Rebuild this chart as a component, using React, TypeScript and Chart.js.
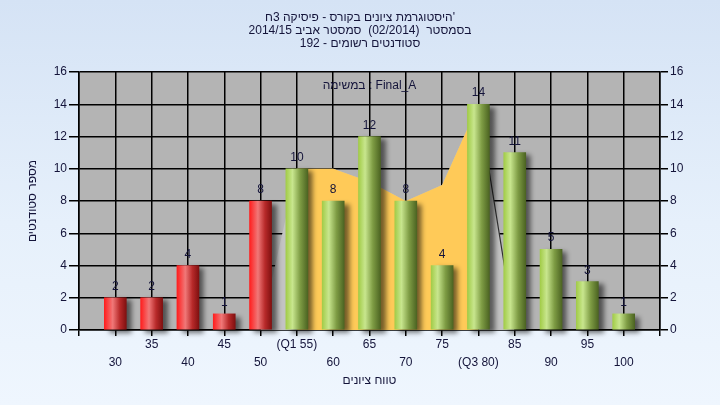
import React, { useEffect, useRef } from 'react';
import { Chart, registerables } from 'chart.js';

Chart.register(...registerables);

// Text
const titleLines = [
  "היסטוגרמת ציונים בקורס - פיסיקה 3ח'",
  'בסמסטר  (02/2014)  סמסטר אביב 2014/15',
  'סטודנטים רשומים - 192',
];
const assignmentCaption = 'במשימה : Final_A';
const xAxisTitle = 'טווח ציונים';
const yAxisTitle = 'מספר סטודנטים';

// Data
const categories = [30, 35, 40, 45, 50, 55, 60, 65, 70, 75, 80, 85, 90, 95, 100];
const tickLabels = ['30', '35', '40', '45', '50', '(Q1 55)', '60', '65', '70', '75', '(Q3 80)', '85', '90', '95', '100'];
const studentCounts = [2, 2, 4, 1, 8, 10, 8, 12, 8, 4, 14, 11, 5, 3, 1];
const quartileBand = [null, null, null, null, null, 10, 10, 9.2, 8, 9, 14, null, null, null, null];
const outerBand = [null, null, null, null, 0, 10, 10, 9.2, 8, 9, 14, 0, null, null, null];
const passMark = 55;
const xMin = 25;
const xMax = 105;
const yMax = 16;
const yStep = 2;

const FONT = "'Liberation Sans', Arial, sans-serif";
const TEXT = '#14143a';
const BAR_W = 22;

const toPoints = (arr: (number | null)[]) =>
  categories
    .map((c, i) => ({ x: c, y: arr[i] }))
    .filter((p) => p.y !== null);

const plotBackground = {
  id: 'plotBackground',
  beforeDraw(chart: any) {
    const { ctx, chartArea } = chart;
    if (!chartArea) return;
    ctx.save();
    ctx.fillStyle = '#b4b4b4';
    ctx.fillRect(chartArea.left, chartArea.top, chartArea.right - chartArea.left, chartArea.bottom - chartArea.top);
    ctx.restore();
  },
};

const caption = {
  id: 'caption',
  beforeDatasetsDraw(chart: any) {
    const { ctx, chartArea } = chart;
    ctx.save();
    ctx.font = `12px ${FONT}`;
    ctx.fillStyle = TEXT;
    ctx.textAlign = 'center';
    ctx.textBaseline = 'middle';
    ctx.fillText(assignmentCaption, (chartArea.left + chartArea.right) / 2, chartArea.top + 14);
    ctx.restore();
  },
};

const barShadow = {
  id: 'barShadow',
  beforeDatasetDraw(chart: any, args: any) {
    if (args.meta.type !== 'bar') return;
    const ctx = chart.ctx;
    ctx.save();
    ctx.shadowColor = 'rgba(0,0,0,0.55)';
    ctx.shadowBlur = 5;
    ctx.shadowOffsetX = 5;
    ctx.shadowOffsetY = 3;
  },
  afterDatasetDraw(chart: any, args: any) {
    if (args.meta.type !== 'bar') return;
    chart.ctx.restore();
  },
};

const valueLabels = {
  id: 'valueLabels',
  afterDatasetsDraw(chart: any) {
    const ctx = chart.ctx;
    chart.data.datasets.forEach((ds: any, di: number) => {
      if (ds.type !== 'bar') return;
      const meta = chart.getDatasetMeta(di);
      ctx.save();
      ctx.font = `12px ${FONT}`;
      ctx.fillStyle = TEXT;
      ctx.textAlign = 'center';
      ctx.textBaseline = 'alphabetic';
      meta.data.forEach((el: any, i: number) => {
        ctx.fillText(String(studentCounts[i]), el.x, el.y - 8);
      });
      ctx.restore();
    });
  },
};

function barFill(c: any) {
  const chart = c.chart;
  const i = c.dataIndex;
  const red = categories[i] < passMark;
  if (!chart.chartArea || c.type !== 'data') return red ? '#e02020' : '#90b848';
  const x = chart.scales.x.getPixelForValue(categories[i]);
  const g = chart.ctx.createLinearGradient(x - BAR_W / 2, 0, x + BAR_W / 2, 0);
  if (red) {
    g.addColorStop(0, '#ff1e1e');
    g.addColorStop(0.38, '#f07878');
    g.addColorStop(0.7, '#b82a2a');
    g.addColorStop(1, '#801010');
  } else {
    g.addColorStop(0, '#a2cc48');
    g.addColorStop(0.3, '#c8e68e');
    g.addColorStop(0.65, '#7e9c44');
    g.addColorStop(1, '#4c6422');
  }
  return g;
}

export default function App() {
  const ref = useRef<HTMLCanvasElement>(null);
  useEffect(() => {
    if (!ref.current) return;
    const chart = new Chart(ref.current, {
      type: 'bar',
      data: {
        datasets: [
          {
            type: 'bar',
            data: categories.map((c, i) => ({ x: c, y: studentCounts[i] })),
            backgroundColor: barFill,
            barThickness: BAR_W,
            borderWidth: 0,
            order: 0,
            clip: false,
          } as any,
          {
            type: 'line',
            data: toPoints(quartileBand),
            fill: 'origin',
            backgroundColor: '#ffca58',
            borderWidth: 0,
            borderColor: 'rgba(0,0,0,0)',
            pointRadius: 0,
            tension: 0,
            order: 1,
          } as any,
          {
            type: 'line',
            data: toPoints(outerBand),
            fill: 'origin',
            backgroundColor: '#c3c3c3',
            borderWidth: 1.2,
            borderColor: 'rgba(0,0,0,0)',
            segment: {
              borderColor: (s: any) => (s.p0.parsed.x === 80 ? '#303030' : 'rgba(0,0,0,0)'),
            },
            pointRadius: 0,
            tension: 0,
            order: 2,
          } as any,
        ],
      },
      options: {
        animation: false,
        responsive: true,
        maintainAspectRatio: false,
        layout: { padding: 0 },
        plugins: {
          legend: { display: false },
          tooltip: { enabled: false },
          title: {
            display: true,
            text: titleLines,
            color: TEXT,
            font: { family: FONT, size: 12, weight: 'normal', lineHeight: '13px' } as any,
            padding: { top: 11, bottom: 22 },
          },
        },
        scales: {
          x: {
            type: 'linear',
            min: xMin,
            max: xMax,
            offset: false,
            afterBuildTicks: (s: any) => {
              s.ticks = [xMin, ...categories, xMax].map((v) => ({ value: v }));
            },
            afterFit: (s: any) => {
              s.height = 75;
            },
            ticks: {
              autoSkip: false,
              maxRotation: 0,
              padding: 0,
              color: TEXT,
              font: { family: FONT, size: 12, lineHeight: '18px' } as any,
              callback: (v: any) => {
                const i = categories.indexOf(Number(v));
                if (i < 0) return '';
                return i % 2 === 0 ? ['', tickLabels[i]] : [tickLabels[i]];
              },
            },
            grid: {
              offset: false,
              color: '#000',
              lineWidth: 1.5,
              tickLength: 6,
              tickColor: '#000',
            },
            border: { color: '#000', width: 1.5 },
            title: {
              display: true,
              text: xAxisTitle,
              color: TEXT,
              font: { family: FONT, size: 12, lineHeight: '14px' } as any,
              padding: { top: 0, bottom: 17 },
            },
          },
          y: {
            type: 'linear',
            position: 'left',
            min: 0,
            max: yMax,
            afterFit: (s: any) => {
              s.width = 79;
            },
            ticks: {
              stepSize: yStep,
              padding: 2,
              color: TEXT,
              font: { family: FONT, size: 12 },
            },
            grid: { color: '#000', lineWidth: 1.5, tickLength: 10, tickColor: '#000' },
            border: { color: '#000', width: 1.5 },
            title: {
              display: true,
              text: yAxisTitle,
              color: TEXT,
              font: { family: FONT, size: 12, lineHeight: '14px' } as any,
              padding: { top: 26, bottom: 0 },
            },
          },
          y2: {
            type: 'linear',
            position: 'right',
            min: 0,
            max: yMax,
            afterFit: (s: any) => {
              s.width = 60;
            },
            ticks: {
              stepSize: yStep,
              padding: 2,
              color: TEXT,
              font: { family: FONT, size: 12 },
            },
            grid: { drawOnChartArea: false, color: '#000', lineWidth: 1.5, tickLength: 8, tickColor: '#000' },
            border: { color: '#000', width: 1.5 },
          },
        },
      } as any,
      plugins: [plotBackground, caption, barShadow, valueLabels],
    });
    return () => chart.destroy();
  }, []);

  return (
    <div
      style={{
        position: 'absolute',
        left: 0,
        top: 0,
        width: 720,
        height: 405,
        background: 'linear-gradient(180deg, #d5e3f5 0%, #e6f0fb 55%, #eff6fe 100%)',
      }}
    >
      <canvas ref={ref} />
    </div>
  );
}
